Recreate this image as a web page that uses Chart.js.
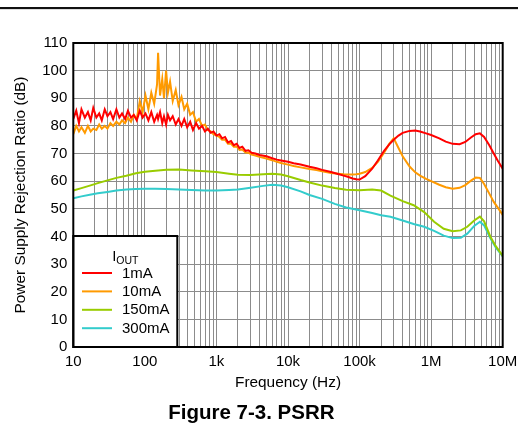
<!DOCTYPE html>
<html>
<head>
<meta charset="utf-8">
<script src="https://cdn.jsdelivr.net/npm/chart.js@4/dist/chart.umd.min.js"></script>
<style>
  body { margin: 0; background: #fff; }
  #wrap { position: relative; width: 518px; height: 434px; }
  #rule { position: absolute; left: 0; top: 7px; width: 518px; height: 2px; background: #111; }
  #rule2 { position: absolute; left: 0; top: 9px; width: 518px; height: 1px; background: #ddd; }
  canvas { position: absolute; left: 0; top: 0; }
</style>
</head>
<body>
<div id="wrap">
  <canvas id="psrrChart" width="518" height="434"></canvas>
  <div id="rule"></div><div id="rule2"></div>
</div>
<script>
// series names / colours
const seriesNames = ['1mA', '10mA', '150mA', '300mA'];
const seriesColors = ['#ff0000', '#ff9a00', '#99cc00', '#33cccc'];
const xTickLabels = ['10', '100', '1k', '10k', '100k', '1M', '10M'];

// noisy low-frequency band (1mA, 10mA)
const freqLow = [10, 11, 12, 13, 14.5, 16, 17.5, 19, 21, 23, 25, 27.5, 30, 33, 36, 40, 44, 48, 53, 58,
  64, 70, 77, 85, 93, 102, 112, 123, 135, 148, 153, 163, 175, 185, 198, 210, 225, 245, 270, 295,
  325, 355, 390, 430, 470, 520, 570, 630, 690, 760, 830, 910, 1000, 1100, 1200, 1320, 1450, 1600,
  1750, 1920, 2100, 2300, 2550, 2800, 3100];
const psrr1mALow = [82.5, 85.5, 81, 86, 83, 85, 82, 86.5, 83, 84.5, 82, 86, 83.5, 85, 82.5, 86, 83, 84.5, 82.5, 85.5,
  83, 84, 82, 85.5, 83, 84.5, 82, 85, 81.5, 84, 82.5, 85, 81, 83.5, 80.5, 84, 82, 83.5, 80.5, 82.5,
  80, 82.5, 79.5, 81.5, 78.5, 81, 79, 80, 78, 79, 77.5, 78, 76.5, 77, 75.5, 76, 74, 74.5,
  73, 73.5, 72, 72.5, 71, 71.2, 70.3];
const psrr10mALow = [77, 80, 78, 79.5, 77.5, 80, 78, 79, 78.5, 80.5, 79, 80, 79, 81, 80, 81.5, 80.5, 82, 81, 83,
  81.5, 84, 82.5, 89, 85, 91, 86, 92, 88, 95, 106.5, 91, 97, 90, 100, 92, 96, 89, 93, 87.5,
  90.5, 86, 88, 84, 85, 81.5, 82.5, 80, 80.5, 78.5, 78, 77, 76.5, 76, 75, 75, 73.5, 73.5,
  72.5, 72.5, 71.3, 71.5, 70.4, 70.3, 69.6];

// smooth high-frequency band (1mA, 10mA)
const freqHigh = [3500, 4000, 5000, 6000, 7000, 8000, 10000, 12000, 15000, 20000, 25000, 30000, 40000, 50000,
  60000, 70000, 80000, 90000, 100000, 120000, 150000, 180000, 220000, 260000, 300000, 350000, 400000,
  500000, 600000, 700000, 850000, 1000000, 1300000, 1600000, 2000000, 2500000, 3000000, 3600000,
  4200000, 4800000, 5500000, 6500000, 7500000, 8500000, 10000000];
const psrr1mAHigh = [70, 69.5, 69, 68.3, 67.8, 67.5, 67, 66.5, 66, 65.2, 64.7, 64.1, 63.3, 62.6,
  62, 61.5, 61, 60.7, 60.6, 61.8, 64.5, 67.5, 71, 73.3, 75, 76.5, 77.5,
  78.2, 78.3, 78, 77.3, 76.7, 75.5, 74.3, 73.5, 73.4, 74.2, 75.8,
  77, 77.3, 76, 73, 70, 67.5, 64.5];
const psrr10mAHigh = [69.3, 68.8, 68.2, 67.6, 67, 66.6, 66, 65.5, 65, 64.4, 64, 63.6, 63, 62.7,
  62.5, 62.4, 62.4, 62.5, 62.7, 63.3, 64.8, 67, 70.3, 73.5, 75.5, 72, 69,
  65.3, 63.2, 62, 60.8, 60, 58.7, 57.8, 57.3, 57.6, 58.6, 60.2,
  61.3, 61.2, 59, 55.5, 52.5, 50.5, 47.8];

// 150mA, 300mA
const freqAll = [10, 13, 17, 22, 30, 40, 55, 75, 100, 140, 200, 300, 450, 700, 1000, 1500, 2000, 3000, 4500,
  6000, 8000, 10000, 15000, 20000, 30000, 45000, 65000, 100000, 150000, 200000, 270000, 400000, 570000,
  800000, 1100000, 1500000, 2000000, 2600000, 3200000, 4000000, 4800000, 5500000, 6700000, 8000000, 10000000];
const psrr150mA = [56.6, 57.5, 58.4, 59.3, 60.3, 61.2, 62, 62.9, 63.4, 63.8, 64.1, 64.2, 63.9, 63.6, 63.3, 62.7, 62.3, 62.2, 62.5,
  62.7, 62.4, 61.8, 60.4, 59.5, 58.4, 57.5, 56.9, 56.7, 57, 56.6, 54.8, 52.8, 51.3,
  48.8, 45.3, 42.8, 41.9, 42.2, 43.5, 45.8, 47.2, 45.5, 40, 36.5, 33];
const psrr300mA = [53.8, 54.5, 55.1, 55.6, 56.1, 56.6, 57, 57.2, 57.3, 57.3, 57.2, 57, 56.8, 56.6, 56.6, 56.8, 57, 57.6, 58.3,
  58.7, 58.4, 57.8, 56.3, 55, 53.6, 51.8, 50.5, 49.5, 48.5, 47.7, 47.1, 45.8, 44.5,
  43.5, 42, 40.3, 39.4, 39.5, 41, 43.8, 45.3, 44, 39.4, 36, 32.8];

const FONT = 'Liberation Sans, Arial, sans-serif';

function toPoints(xs, ys) {
  return xs.map((x, i) => ({ x: x, y: ys[i] }));
}

const seriesData = [
  toPoints(freqLow, psrr1mALow).concat(toPoints(freqHigh, psrr1mAHigh)),
  toPoints(freqLow, psrr10mALow).concat(toPoints(freqHigh, psrr10mAHigh)),
  toPoints(freqAll, psrr150mA),
  toPoints(freqAll, psrr300mA)
];

// frame around plot + legend box in lower-left corner
const framePlugin = {
  id: 'framePlugin',
  afterDatasetsDraw(chart) {
    const ctx = chart.ctx;
    const a = chart.chartArea;
    ctx.save();

    // legend box
    const bx = a.left, by = 236, bw = 104, bh = a.bottom - 236;
    ctx.fillStyle = '#fff';
    ctx.fillRect(bx, by, bw, bh);
    ctx.strokeStyle = '#000';
    ctx.lineWidth = 2;
    ctx.strokeRect(bx, by, bw, bh);

    ctx.fillStyle = '#000';
    ctx.textBaseline = 'alphabetic';
    ctx.font = '15px ' + FONT;
    const iw = ctx.measureText('I').width;
    ctx.font = '10.5px ' + FONT;
    const ow = ctx.measureText('OUT').width;
    const tx = bx + bw / 2 - (iw + ow) / 2;
    ctx.font = '15px ' + FONT;
    ctx.fillText('I', tx, 261);
    ctx.font = '10.5px ' + FONT;
    ctx.fillText('OUT', tx + iw, 263.5);

    ctx.font = '15px ' + FONT;
    ctx.textBaseline = 'middle';
    chart.data.datasets.forEach((ds, i) => {
      const y = 273 + i * 18.4;
      ctx.strokeStyle = ds.borderColor;
      ctx.lineWidth = 2;
      ctx.beginPath();
      ctx.moveTo(82, y);
      ctx.lineTo(112, y);
      ctx.stroke();
      ctx.fillText(ds.label, 122, y + 0.5);
    });

    // plot frame
    ctx.strokeStyle = '#000';
    ctx.lineWidth = 2;
    ctx.strokeRect(a.left, a.top, a.right - a.left, a.bottom - a.top);
    ctx.restore();
  }
};

const ctx = document.getElementById('psrrChart').getContext('2d');
const psrrChart = new Chart(ctx, {
  type: 'line',
  data: {
    datasets: seriesNames.map((name, i) => ({
      label: name,
      data: seriesData[i],
      borderColor: seriesColors[i],
      backgroundColor: seriesColors[i],
      borderWidth: 2,
      pointRadius: 0,
      tension: 0,
      fill: false
    }))
  },
  plugins: [framePlugin],
  options: {
    responsive: false,
    animation: false,
    events: [],
    layout: { padding: { left: 0, top: 43, right: 15.3, bottom: 0 } },
    plugins: {
      legend: { display: false },
      tooltip: { enabled: false },
      title: {
        display: true,
        position: 'bottom',
        text: 'Figure 7-3. PSRR',
        color: '#000',
        font: { family: FONT, size: 20.5, weight: 'bold' },
        padding: { top: 6, bottom: 8.7 }
      }
    },
    scales: {
      x: {
        type: 'logarithmic',
        min: 10,
        max: 10000000,
        afterFit: (scale) => {
          scale.height = 47.7;
          scale.paddingRight = 0;
          scale.paddingLeft = 0;
        },
        afterBuildTicks: (scale) => {
          const ticks = [];
          for (let p = 1; p <= 7; p++) {
            for (let m = 1; m <= 9; m++) {
              const v = m * Math.pow(10, p);
              if (v <= 10000000) ticks.push({ value: v });
            }
          }
          scale.ticks = ticks;
        },
        ticks: {
          autoSkip: false,
          maxRotation: 0,
          padding: 6,
          color: '#000',
          font: { family: FONT, size: 15 },
          callback: (value) => {
            const p = Math.round(Math.log10(value));
            if (Math.abs(value - Math.pow(10, p)) > 1e-6 * value) return '';
            return xTickLabels[p - 1];
          }
        },
        grid: { color: '#8c8c8c', lineWidth: 1, drawTicks: false },
        border: { display: false },
        title: {
          display: true,
          text: 'Frequency (Hz)',
          color: '#000',
          font: { family: FONT, size: 15.4 },
          padding: { top: 0, bottom: 2.5 }
        }
      },
      y: {
        min: 0,
        max: 110,
        afterFit: (scale) => { scale.width = 73.3; },
        ticks: {
          stepSize: 10,
          padding: 6,
          color: '#000',
          font: { family: FONT, size: 15 }
        },
        grid: { color: '#8c8c8c', lineWidth: 1, drawTicks: false },
        border: { display: false },
        title: {
          display: true,
          text: 'Power Supply Rejection Ratio (dB)',
          color: '#000',
          font: { family: FONT, size: 15.4 },
          padding: { top: 11.8, bottom: 0 }
        }
      }
    }
  }
});
</script>
</body>
</html>
